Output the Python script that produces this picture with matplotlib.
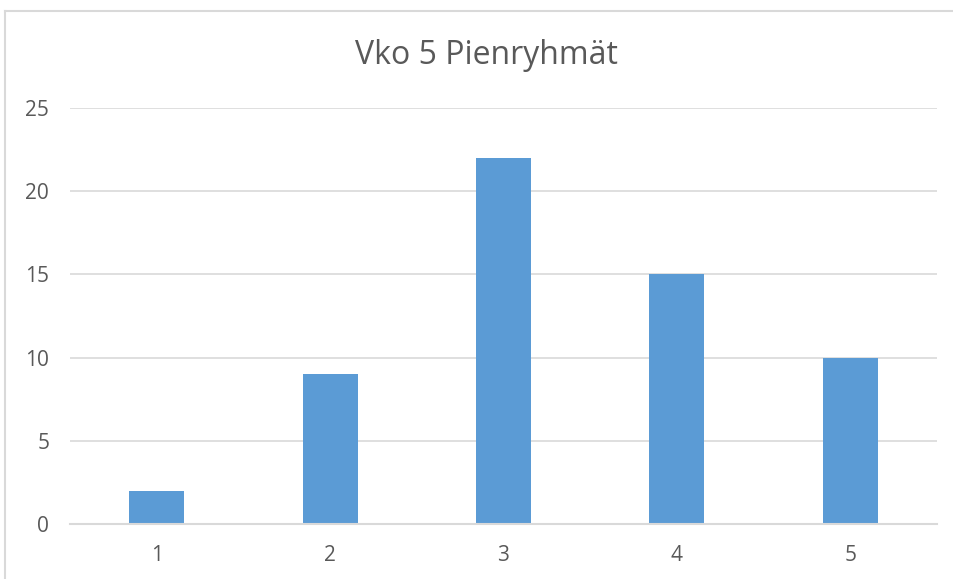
import matplotlib.pyplot as plt
from matplotlib.lines import Line2D

categories = ["1", "2", "3", "4", "5"]
values = [2, 9, 22, 15, 10]
y_ticks = [0, 5, 10, 15, 20, 25]
title = "Vko 5 Pienryhmät"

W, H = 954, 579
text_color = "#595959"
grid_color = "#D9D9D9"

plt.rcParams["font.family"] = ["Open Sans", "DejaVu Sans"]

fig = plt.figure(figsize=(W / 100, H / 100), dpi=100)

# chart-area border: only the left and top edges show in the reference
border_x = 5.5 / W
border_y = 1 - 10.5 / H
fig.add_artist(Line2D([border_x, border_x], [0, border_y],
                      transform=fig.transFigure, color=grid_color, linewidth=1.5))
fig.add_artist(Line2D([border_x, 1], [border_y, border_y],
                      transform=fig.transFigure, color=grid_color, linewidth=1.5))

ax = fig.add_axes([70 / W, (H - 524) / H, 867 / W, 416 / H])

positions = range(1, len(categories) + 1)
ax.bar(positions, values, width=0.317, color="#5B9BD5", zorder=3)

ax.set_xlim(0.5, len(categories) + 0.5)
ax.set_ylim(0, 25)
ax.set_yticks(y_ticks)
ax.set_xticks(list(positions))
ax.set_xticklabels(categories)

ax.grid(axis="y", color=grid_color, linewidth=1.2, zorder=0)
for side in ["left", "right", "top"]:
    ax.spines[side].set_visible(False)
ax.spines["bottom"].set_color(grid_color)
ax.spines["bottom"].set_linewidth(1.5)
ax.spines["bottom"].set_zorder(4)

ax.tick_params(axis="both", length=0, labelsize=15, labelcolor=text_color)
ax.tick_params(axis="y", pad=15)
ax.tick_params(axis="x", pad=15)

fig.text(
    486 / W, 1 - 55 / H, title,
    ha="center", va="center",
    fontsize=23, color=text_color
)

fig.savefig("out.png", dpi=100)
